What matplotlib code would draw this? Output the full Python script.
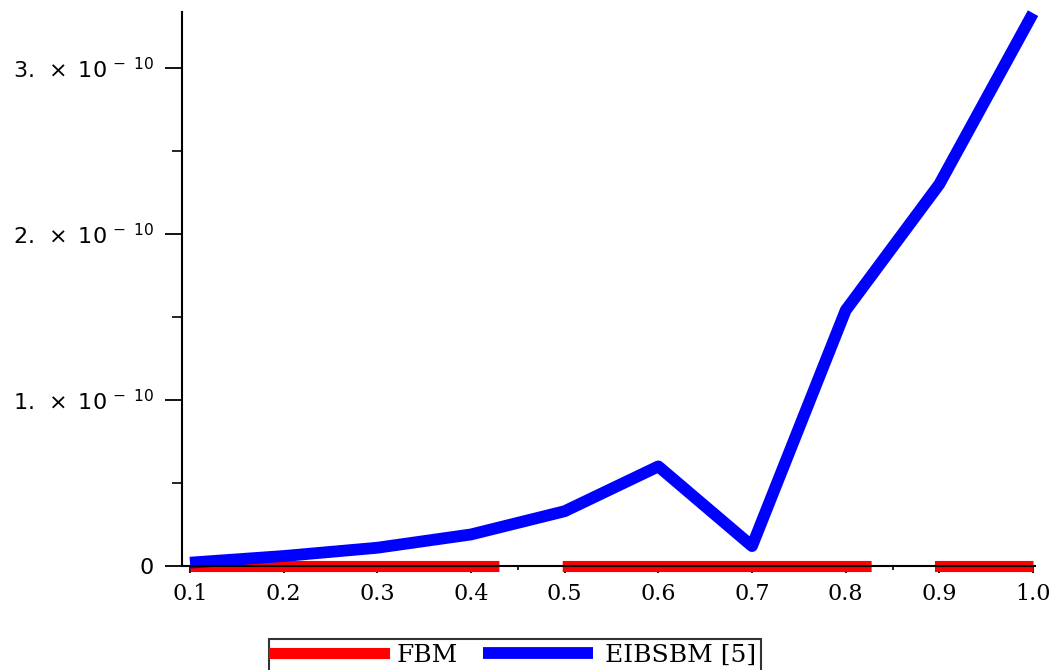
import numpy as np
import matplotlib.pyplot as plt
from matplotlib.ticker import FuncFormatter

# data
x = [0.1, 0.2, 0.3, 0.4, 0.5, 0.6, 0.7, 0.8, 0.9, 1.0]
fbm = [0, 0, 0, 0, 0, 0, 0, 0, 0, 0]
eibsbm = [0.02e-10, 0.06e-10, 0.11e-10, 0.19e-10, 0.33e-10,
          0.60e-10, 0.12e-10, 1.54e-10, 2.30e-10, 3.33e-10]
labels = ["FBM", "EIBSBM [5]"]
yticks = [0, 1e-10, 2e-10, 3e-10]
yminor = [0.5e-10, 1.5e-10, 2.5e-10]
xminor = [0.15, 0.25, 0.35, 0.45, 0.55, 0.65, 0.75, 0.85, 0.95]

plt.rcParams["mathtext.fontset"] = "dejavusans"

fig = plt.figure(figsize=(10.53, 6.70), dpi=100)
ax = fig.add_axes([182 / 1053, 104 / 670, 853 / 1053, 554 / 670])

lw = 8
l1, = ax.plot(x, fbm, color="red", lw=lw, ls=(0, (27.8, 5.7)),
              clip_on=False, zorder=2, label=labels[0])
l2, = ax.plot(x, eibsbm, color="blue", lw=8.5, clip_on=False,
              solid_capstyle="butt", solid_joinstyle="round", zorder=3, label=labels[1])

ax.set_xlim(0.0915, 1.0021)
ax.set_ylim(0, 3.337e-10)

for s in ["top", "right"]:
    ax.spines[s].set_visible(False)
for s in ["left", "bottom"]:
    ax.spines[s].set_linewidth(1.5)
    ax.spines[s].set_zorder(5)

ax.set_xticks(x)
ax.set_xticks(xminor, minor=True)
ax.set_yticks(yticks)
ax.set_yticks(yminor, minor=True)

ax.xaxis.set_major_formatter(FuncFormatter(lambda v, p: f"{v:.1f}"))


def yfmt(v, p):
    if abs(v) < 1e-15:
        return "0"
    return r"$%d.\;\times\;10^{\,-\ 10}$" % round(v / 1e-10)


ax.yaxis.set_major_formatter(FuncFormatter(yfmt))

ax.tick_params(axis="x", which="major", direction="out", length=5, width=1.3,
               pad=7, labelsize=16, labelfontfamily="DejaVu Serif")
ax.tick_params(axis="x", which="minor", direction="out", length=3, width=1.2)
ax.tick_params(axis="y", which="major", direction="out", length=12, width=1.3,
               pad=8, labelsize=16)
ax.tick_params(axis="y", which="minor", direction="out", length=7, width=1.2)

leg = fig.legend(handles=[l1, l2], loc="upper center",
                 bbox_to_anchor=(515 / 1053, 1 - 639 / 670), ncol=2,
                 frameon=True, fancybox=False, handlelength=4.4,
                 prop={"family": "DejaVu Serif", "size": 18},
                 borderaxespad=0, columnspacing=1.0, handletextpad=0.5,
                 borderpad=0.2)
leg.get_frame().set_edgecolor("black")
leg.get_frame().set_linewidth(1.5)
for h in leg.get_lines():
    h.set_linestyle("-")

fig.savefig("out.png", dpi=100)
